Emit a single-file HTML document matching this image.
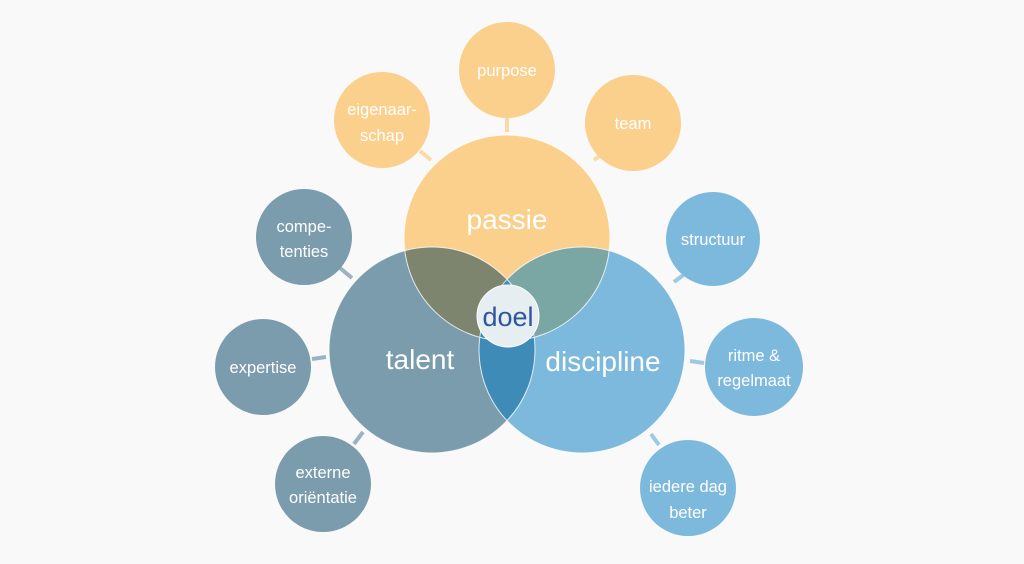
<!DOCTYPE html>
<html><head><meta charset="utf-8"><style>
html,body{margin:0;padding:0;background:#f9f9f9;}
svg{display:block}
text{font-family:"Liberation Sans",sans-serif;fill:#fff;text-anchor:middle}
</style></head><body>
<svg width="1024" height="564" viewBox="0 0 1024 564">
<rect width="1024" height="564" fill="#f9f9f9"/>
<defs>
<clipPath id="cp"><circle cx="507" cy="238" r="103"/></clipPath>
<clipPath id="ct"><circle cx="432" cy="350" r="103"/></clipPath>
<clipPath id="cd"><circle cx="582" cy="350" r="103"/></clipPath>
</defs>
<g stroke-width="4" stroke-linecap="butt" opacity="0.75">
<line x1="507" y1="118" x2="507" y2="132" stroke="#fbd08c"/>
<line x1="420" y1="151" x2="431" y2="160" stroke="#fbd08c"/>
<line x1="594" y1="160" x2="606" y2="151" stroke="#fbd08c"/>
<line x1="340" y1="268" x2="352" y2="278" stroke="#7b9cad"/>
<line x1="312" y1="359" x2="326" y2="357" stroke="#7b9cad"/>
<line x1="354" y1="444" x2="363" y2="432" stroke="#7b9cad"/>
<line x1="674" y1="282" x2="686" y2="273" stroke="#7db9dc"/>
<line x1="690" y1="361" x2="704" y2="363" stroke="#7db9dc"/>
<line x1="651" y1="434" x2="659" y2="445" stroke="#7db9dc"/>
</g>
<g>
<circle cx="507" cy="70" r="48" fill="#fbd08c"/>
<circle cx="382" cy="120" r="48" fill="#fbd08c"/>
<circle cx="633" cy="123" r="48" fill="#fbd08c"/>
<circle cx="304" cy="237" r="48" fill="#7b9cad"/>
<circle cx="263" cy="367" r="48" fill="#7b9cad"/>
<circle cx="323" cy="484" r="48" fill="#7b9cad"/>
<circle cx="713" cy="239" r="47" fill="#7db9dc"/>
<circle cx="754" cy="367" r="49" fill="#7db9dc"/>
<circle cx="688" cy="488" r="48" fill="#7db9dc"/>
</g>
<circle cx="507" cy="238" r="103" fill="#fbd08c"/>
<circle cx="432" cy="350" r="103" fill="#7b9cad"/>
<circle cx="582" cy="350" r="103" fill="#7db9dc"/>
<g clip-path="url(#cp)"><circle cx="432" cy="350" r="103" fill="#7e856f"/><circle cx="582" cy="350" r="103" fill="#7aa6a4"/></g>
<g clip-path="url(#ct)"><circle cx="582" cy="350" r="103" fill="#3f8bb8"/></g>
<g fill="none" stroke="#fff" stroke-width="1" opacity="0.8">
<circle cx="507" cy="238" r="103"/><circle cx="432" cy="350" r="103"/><circle cx="582" cy="350" r="103"/>
</g>
<circle cx="508" cy="316" r="31" fill="#e6eef2" stroke="#fff" stroke-width="1"/>
<text x="508" y="326" font-size="27" style="fill:#2e55a0">doel</text>
<text x="507" y="229" font-size="28">passie</text>
<text x="420" y="369" font-size="28">talent</text>
<text x="603" y="371" font-size="28">discipline</text>
<g font-size="16.5">
<text x="507" y="76">purpose</text>
<text x="382" y="115">eigenaar-</text><text x="382" y="141">schap</text>
<text x="633" y="129">team</text>
<text x="304" y="232">compe-</text><text x="304" y="257">tenties</text>
<text x="263" y="373">expertise</text>
<text x="323" y="478">externe</text><text x="323" y="503">oriëntatie</text>
<text x="713" y="245">structuur</text>
<text x="754" y="361">ritme &amp;</text><text x="754" y="386">regelmaat</text>
<text x="688" y="492">iedere dag</text><text x="688" y="518">beter</text>
</g>
</svg>
</body></html>
